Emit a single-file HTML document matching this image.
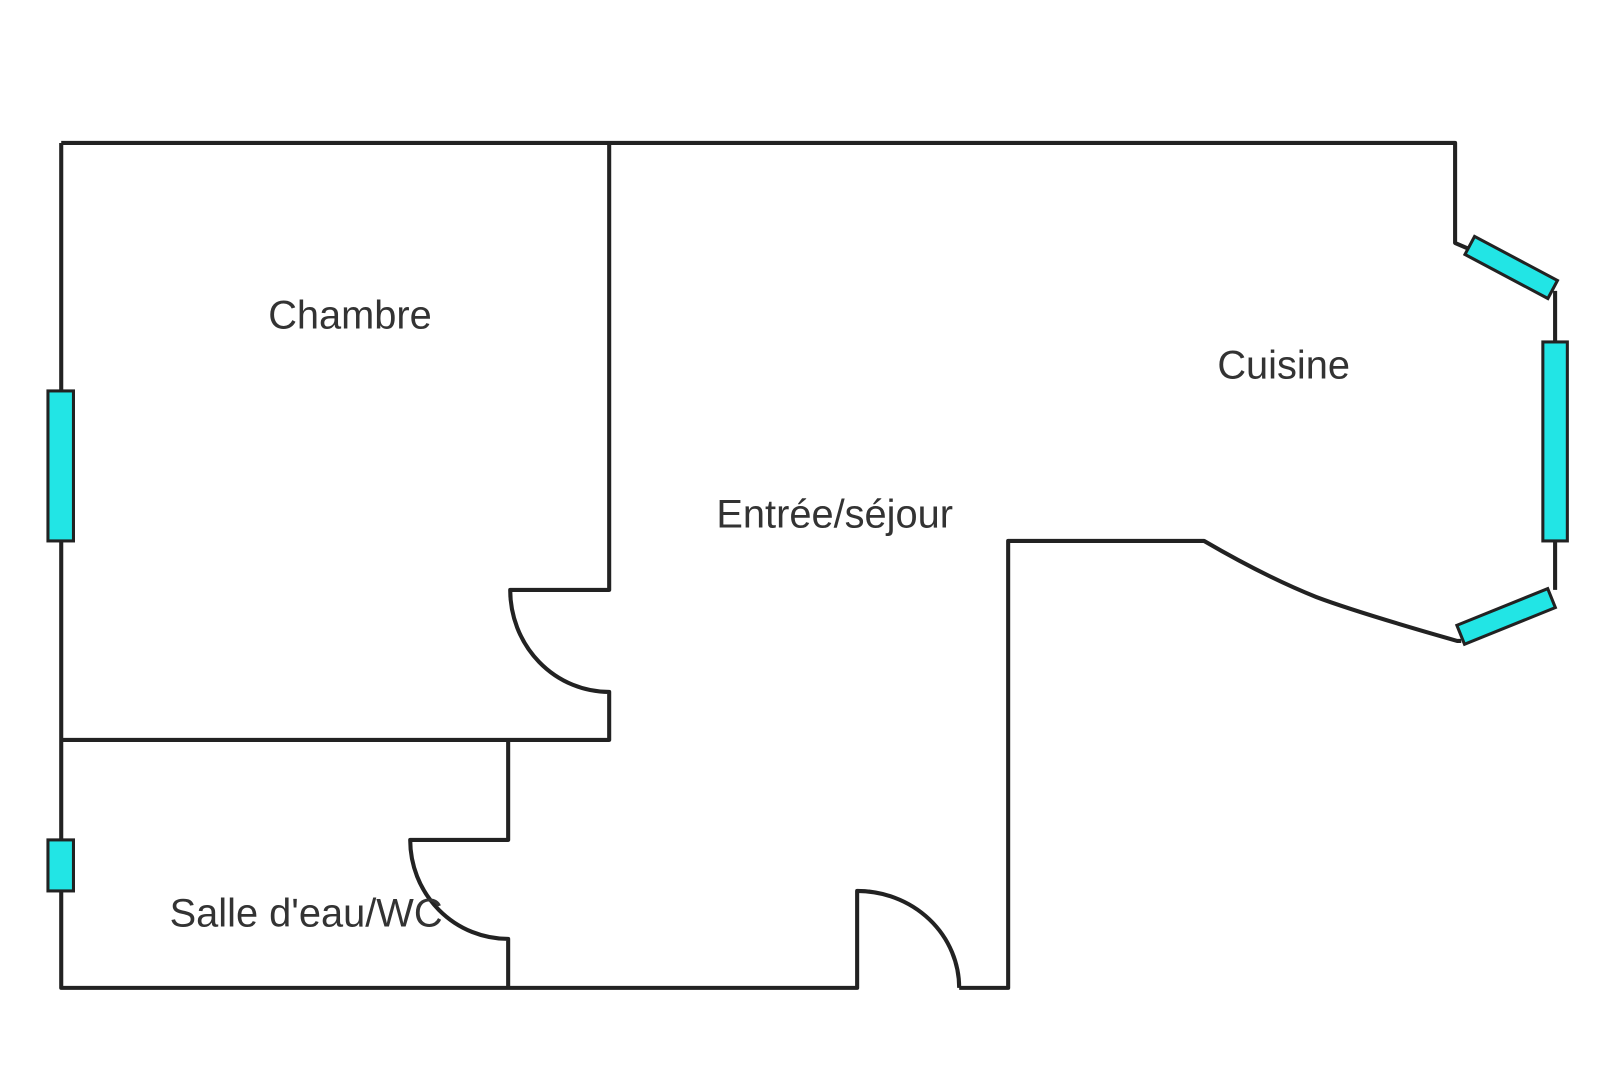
<!DOCTYPE html>
<html><head><meta charset="utf-8"><style>html,body{margin:0;padding:0;background:#fff}svg{display:block}</style></head>
<body>
<svg width="1600" height="1089" viewBox="0 0 1568 1067" xmlns="http://www.w3.org/2000/svg">
<g fill="none" stroke="#222" stroke-width="4" stroke-linejoin="round">
<path d="M60 140 H1426 V238 L1440 244"/>
<path d="M1524 285 V335 M1524 530 V578"/>
<path d="M1432 628 L1428 628 Q1330 600 1290 585 Q1240 565 1180 530 H988 V968 H940"/>
<path d="M940 968 A100 95 0 0 0 840 873 V968 H60 V140"/>
<path d="M597 140 V578 H500 A97 100 0 0 0 597 678 V725 H60"/>
<path d="M498 725 V823 H402 A96 97 0 0 0 498 920 V968"/>
</g>
<g fill="#22e5e5" stroke="#222" stroke-width="3">
<rect x="47" y="383" width="25" height="147"/>
<rect x="47" y="823" width="25" height="50"/>
<rect x="1512" y="335" width="24" height="195"/>
<rect x="-46" y="-10" width="92" height="20" transform="translate(1481 262) rotate(28)"/>
<rect x="-48" y="-10" width="96" height="20" transform="translate(1476 604) rotate(-22)"/>
</g>
<g font-family="Liberation Sans, sans-serif" font-size="39" fill="#333" text-anchor="middle">
<text x="343" y="322">Chambre</text>
<text x="1258" y="371">Cuisine</text>
<text x="818" y="517">Entrée/séjour</text>
<text x="300" y="908">Salle d'eau/WC</text>
</g>
</svg>
</body></html>
